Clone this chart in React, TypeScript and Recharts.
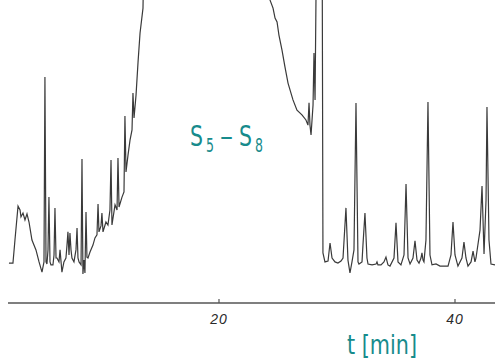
import React from "react";
import { LineChart, Line, XAxis, YAxis } from "recharts";

// retention time (min) and detector signal (arbitrary units)
const leftTimes = [
  2.2, 2.54, 2.71, 2.97, 3.14, 3.22, 3.39, 3.56, 3.73, 3.9, 4.15, 4.49, 4.75, 5.0, 5.17, 5.25, 5.34, 5.42, 5.51,
  5.59, 5.68, 5.76, 5.93, 6.02, 6.1, 6.19, 6.27, 6.44, 6.53, 6.69, 6.86, 7.03, 7.12, 7.2, 7.29, 7.37, 7.46, 7.54,
  7.71, 7.88, 7.97, 8.05, 8.14, 8.31, 8.39, 8.47, 8.56, 8.64, 8.73, 8.81, 8.9, 9.07, 9.32, 9.49, 9.66, 9.75, 9.83,
  10.0, 10.08, 10.17, 10.42, 10.59, 10.76, 10.85, 10.93, 11.19, 11.36, 11.44, 11.53, 11.78, 11.95, 12.03, 12.12,
  12.29, 12.46, 12.63, 12.71, 12.8, 12.97, 13.14, 13.31, 13.56, 13.81,
];
const leftSignal = [
  13.3, 13.3, 21, 32.3, 31, 28.7, 30, 27.7, 29.7, 27, 21, 17.7, 13.7, 10.3, 13.7, 75.3, 13.7, 13, 17.7,
  35.3, 13.7, 12.7, 12.7, 16, 31.7, 15, 15, 13.7, 17.7, 10.3, 13.7, 15, 19.3, 23.7, 16, 23.3, 17.7, 15,
  13.7, 17.7, 25, 15, 13.7, 12.7, 48, 9.7, 14.3, 10, 30.3, 15.3, 15, 17, 19.3, 21.7, 22.7, 33, 23.7,
  25.7, 30, 23.7, 27, 26, 31, 47.7, 26, 32.7, 31, 48.3, 32, 35.3, 37, 62.3, 43.7,
  49.3, 54.3, 57.7, 70, 61.7, 69.3, 80.3, 90, 98.3, 160,
];

const rightTimes = [
  24.15, 24.32, 24.58, 24.75, 24.92, 25.08, 25.34, 25.59, 25.85, 26.27, 26.61, 27.03, 27.37, 27.54, 27.63, 27.71,
  27.8, 27.97, 28.05, 28.14, 28.31, 28.73, 28.81, 28.98, 29.24, 29.41, 29.58, 29.83, 30.08, 30.34, 30.51, 30.76,
  30.93, 31.1, 31.27, 31.44, 31.61, 31.78, 31.86, 32.12, 32.2, 32.37, 32.54, 32.63, 32.97, 33.31, 33.39, 33.47,
  33.73, 33.98, 34.15, 34.32, 34.49, 34.83, 35.0, 35.17, 35.42, 35.68, 35.85, 36.02, 36.19, 36.44, 36.61, 36.78,
  36.95, 37.12, 37.2, 37.29, 37.37, 37.54, 37.71, 37.88, 38.05, 38.39, 38.73, 39.07, 39.41, 39.66, 39.83, 40.0,
  40.25, 40.59, 40.76, 40.93, 41.1, 41.36, 41.53, 41.69, 41.78, 42.12, 42.29, 42.46, 42.63, 42.71, 42.88, 43.05,
  43.39,
];
const rightSignal = [
  160, 101, 98.3, 95, 93.7, 89.3, 84.3, 78.7, 73.3, 67.7, 64.3, 62.7, 61, 59.3, 66.7, 59.3,
  56, 66, 83.3, 67.7, 140, 140, 16.7, 13.7, 14, 20, 15, 13.7, 13.3, 14, 15, 31.7,
  14.3, 10, 13.7, 17.7, 66.7, 13.7, 13, 13.7, 19.3, 30, 15, 13, 12.7, 13, 13.7, 12.7,
  12.7, 13.7, 15.3, 12.7, 12.3, 15, 26.7, 13.7, 12.7, 16, 39.7, 15, 13, 15, 20.7, 14.3,
  13.3, 15, 16.7, 14.3, 13.7, 21, 67, 16, 12.7, 13, 12.3, 12.3, 12.3, 16, 27, 16,
  12.3, 15, 20.3, 15, 12.3, 13.7, 17.3, 13.7, 15, 24.3, 39, 16.3, 34.3, 65.3, 21, 13,
  12.7,
];

const xTicks = [20, 40];

const data = [
  ...leftTimes.map((t, i) => ({ t, v: leftSignal[i] })),
  ...rightTimes.map((t, i) => ({ t, v: rightSignal[i] })),
];

const TEAL = "#178b8c";
const NARROW = "Liberation Sans Narrow, DejaVu Sans Condensed, Arial, sans-serif";

const Tick = (props: any) => {
  const { x, y, payload } = props;
  return (
    <g>
      <line x1={x} y1={y - 4} x2={x} y2={y} stroke="#555" strokeWidth={1.2} />
      <text
        x={x}
        y={y + 21}
        textAnchor="middle"
        fontFamily="Liberation Sans, Arial, sans-serif"
        fontStyle="italic"
        fontSize={14}
        letterSpacing={1}
        fill="#2a2a2a"
      >
        {payload.value}
      </text>
    </g>
  );
};

export default function App() {
  return (
    <div style={{ position: "absolute", left: 0, top: 0, width: 495, height: 360, background: "#fff" }}>
      <LineChart width={495} height={360} data={data} margin={{ top: 0, right: 0, left: 8, bottom: 0 }}>
        <XAxis
          dataKey="t"
          type="number"
          domain={[2.12, 43.39]}
          allowDataOverflow
          ticks={xTicks}
          height={57}
          tickSize={0}
          tickMargin={0}
          tickLine={false}
          axisLine={{ stroke: "#555", strokeWidth: 1.6 }}
          tick={<Tick />}
        />
        <YAxis hide domain={[0, 101]} allowDataOverflow />
        <Line
          type="linear"
          dataKey="v"
          stroke="#3a3a3a"
          strokeWidth={1.2}
          dot={false}
          isAnimationActive={false}
        />
      </LineChart>
      <svg
        width={495}
        height={360}
        style={{ position: "absolute", left: 0, top: 0, pointerEvents: "none" }}
      >
        <g fontFamily={NARROW} fill={TEAL}>
          <text x={190} y={146} fontSize={29} textLength={13} lengthAdjust="spacingAndGlyphs">S</text>
          <text x={206} y={152} fontSize={19} textLength={8} lengthAdjust="spacingAndGlyphs">5</text>
          <text x={220} y={146} fontSize={29} textLength={13} lengthAdjust="spacingAndGlyphs">–</text>
          <text x={239} y={146} fontSize={29} textLength={13} lengthAdjust="spacingAndGlyphs">S</text>
          <text x={255} y={152} fontSize={19} textLength={8} lengthAdjust="spacingAndGlyphs">8</text>
          <text x={347} y={354} fontSize={27} textLength={70} lengthAdjust="spacingAndGlyphs">t [min]</text>
        </g>
      </svg>
    </div>
  );
}
